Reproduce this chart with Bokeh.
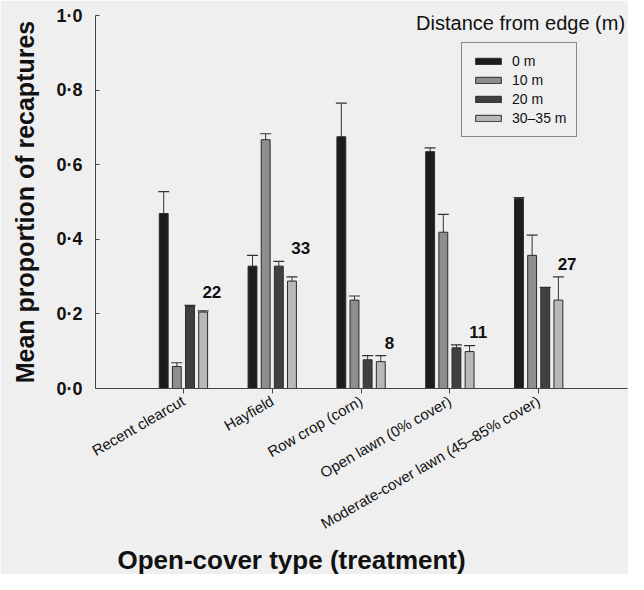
import math
from bokeh.plotting import figure
from bokeh.models import (Range1d, FixedTicker, Legend, LegendItem, Whisker,
                          ColumnDataSource, Label, Title, TeeHead)
from bokeh.transform import dodge
from bokeh.core.properties import value
from bokeh.embed import file_html
from bokeh.resources import INLINE

# ---- data ----
categories = ["Recent clearcut", "Hayfield", "Row crop (corn)",
              "Open lawn (0% cover)", "Moderate-cover lawn (45\u201385% cover)"]
distances = ["0 m", "10 m", "20 m", "30\u201335 m"]

mean_0m = [0.469, 0.328, 0.675, 0.635, 0.509]
upper_0m = [0.528, 0.357, 0.765, 0.645, 0.512]
mean_10m = [0.059, 0.667, 0.237, 0.419, 0.357]
upper_10m = [0.069, 0.683, 0.248, 0.467, 0.411]
mean_20m = [0.221, 0.328, 0.077, 0.109, 0.269]
upper_20m = [0.223, 0.341, 0.088, 0.117, 0.271]
mean_30m = [0.205, 0.288, 0.072, 0.099, 0.237]
upper_30m = [0.208, 0.299, 0.088, 0.115, 0.299]
sample_n = [22, 33, 8, 11, 27]

y_ticks = [0.0, 0.2, 0.4, 0.6, 0.8, 1.0]
y_tick_labels = ["0\u00b70", "0\u00b72", "0\u00b74", "0\u00b76", "0\u00b78", "1\u00b70"]

colors = ["#1c1c1c", "#8e8e8e", "#404040", "#b8b8b8"]
FONT = "Liberation Sans"
BG = "#efefef"

idx = list(range(len(categories)))

p = figure(width=628, height=574, output_backend="svg", toolbar_location=None,
           x_range=Range1d(-0.99, 5.0), y_range=Range1d(0, 1.0),
           min_border_left=95, min_border_right=1, min_border_top=15,
           min_border_bottom=186)
p.background_fill_color = BG
p.border_fill_color = BG
p.outline_line_color = None
p.grid.visible = False

series = [(mean_0m, upper_0m), (mean_10m, upper_10m),
          (mean_20m, upper_20m), (mean_30m, upper_30m)]
step = 0.148
offsets = [(-1.5 + k) * step for k in range(4)]

renderers = []
for k, (m, u) in enumerate(series):
    src = ColumnDataSource(dict(x=idx, top=m, up=u))
    r = p.vbar(x=dodge("x", offsets[k], range=p.x_range), top="top", width=0.1,
               source=src, fill_color=colors[k], line_color="#2a2a2a", line_width=1)
    renderers.append(r)
    w = Whisker(source=src, base=dodge("x", offsets[k], range=p.x_range),
                upper="up", lower="top", dimension="height",
                line_color="#333333", line_width=1,
                upper_head=TeeHead(size=11, line_color="#333333", line_width=1.2),
                lower_head=None)
    p.add_layout(w)

# sample sizes
n_x = [i + 0.32 for i in idx]
n_y = [max(a, b) + 0.035 for a, b in zip(upper_20m, upper_30m)]
p.text(x=n_x, y=n_y, text=[str(n) for n in sample_n], text_align="center",
       text_baseline="middle", text_font=value(FONT), text_font_size="17px",
       text_font_style="bold", text_color="#111111")

# axes
xa = p.xaxis[0]
xa.ticker = FixedTicker(ticks=idx)
xa.major_label_overrides = {i: c for i, c in zip(idx, categories)}
xa.major_label_orientation = math.pi / 6
xa.major_label_text_font = FONT
xa.major_label_text_font_size = "15px"
xa.major_label_text_color = "#111111"
xa.major_label_standoff = 6
xa.major_tick_in = 0
xa.major_tick_out = 5
xa.minor_tick_line_color = None
xa.axis_line_color = "#444444"
xa.major_tick_line_color = "#444444"

ya = p.yaxis[0]
ya.ticker = FixedTicker(ticks=y_ticks)
ya.major_label_overrides = {t: l for t, l in zip(y_ticks, y_tick_labels)}
ya.major_label_text_font = FONT
ya.major_label_text_font_size = "18px"
ya.major_label_text_font_style = "bold"
ya.major_label_text_color = "#111111"
ya.major_label_standoff = 13
ya.major_tick_in = 4
ya.major_tick_out = 0
ya.minor_tick_line_color = None
ya.axis_line_color = "#444444"
ya.major_tick_line_color = "#444444"
ya.axis_label = "Mean proportion of recaptures"
ya.axis_label_text_font = FONT
ya.axis_label_text_font_size = "25px"
ya.axis_label_text_font_style = "bold"
ya.axis_label_text_color = "#111111"
ya.axis_label_standoff = 14

xt = Title(text="Open-cover type (treatment)", align="left", offset=22,
           standoff=0, text_font=FONT, text_font_size="26px",
           text_font_style="bold", text_color="#111111")
p.add_layout(xt, "below")

legend = Legend(items=[LegendItem(label=d, renderers=[r]) for d, r in zip(distances, renderers)],
                location=(366, 251), glyph_width=32, glyph_height=8,
                label_height=14, label_standoff=8, spacing=3, padding=10, margin=0,
                label_text_font=FONT, label_text_font_size="14px",
                label_text_color="#111111",
                border_line_color="#222222", border_line_width=1,
                background_fill_alpha=0)
p.add_layout(legend)

p.add_layout(Label(x=2.62, y=0.981, text="Distance from edge (m)",
                   text_font=FONT, text_font_size="20px", text_baseline="middle",
                   text_color="#111111"))

open("out.html", "w").write(file_html(p, INLINE))
